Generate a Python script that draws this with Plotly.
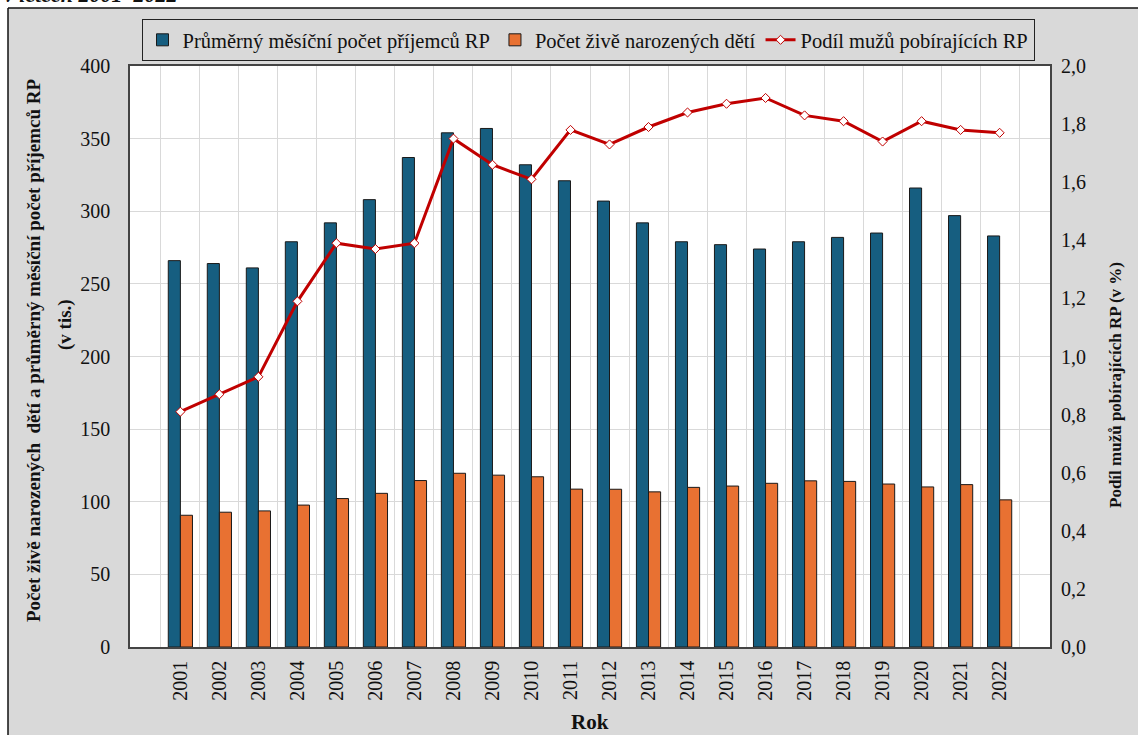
import plotly.graph_objects as go

years = [str(y) for y in range(2001, 2023)]
prijemci = [266, 264, 261, 279, 292, 308, 337, 354, 357, 332, 321, 307,
            292, 279, 277, 274, 279, 282, 285, 316, 297, 283]
narozeni = [90.7, 92.8, 93.7, 97.7, 102.2, 105.8, 114.6, 119.6, 118.3, 117.2, 108.7, 108.6,
            106.8, 109.9, 110.8, 112.7, 114.4, 114.0, 112.2, 110.2, 111.8, 101.3]
podil_muzu = [0.81, 0.87, 0.93, 1.19, 1.39, 1.37, 1.39, 1.75, 1.66, 1.61, 1.78, 1.73,
              1.79, 1.84, 1.87, 1.89, 1.83, 1.81, 1.74, 1.81, 1.78, 1.77]

FONT = "'Liberation Serif', 'Times New Roman', Times, serif"

fig = go.Figure()
fig.add_trace(go.Bar(
    x=years, y=prijemci, name="Průměrný měsíční počet příjemců RP",
    marker=dict(color="#165E80", line=dict(color="#1a1a1a", width=1)),
))
fig.add_trace(go.Bar(
    x=years, y=narozeni, name="Počet živě narozených dětí",
    marker=dict(color="#E87132", line=dict(color="#1a1a1a", width=1)),
))
fig.add_trace(go.Scatter(
    x=years, y=podil_muzu, name="Podíl mužů pobírajících RP", yaxis="y2",
    mode="lines+markers",
    line=dict(color="#C00000", width=3),
    marker=dict(symbol="diamond", size=7, color="white",
                line=dict(color="#C00000", width=1)),
))

L, R, T, B = 130, 88, 66, 88
W, H = 1138, 735
pw, ph = W - L - R, H - T - B


def px_x(px):
    return (px - L) / pw


def px_y(py):
    return (H - B - py) / ph


fig.update_layout(
    width=W, height=H,
    margin=dict(l=L, r=R, t=T, b=B, autoexpand=False),
    paper_bgcolor="#D9D9D9",
    plot_bgcolor="white",
    separators=", ",
    barmode="group",
    bargap=0.38,
    bargroupgap=0,
    font=dict(family=FONT, color="#111111", size=20),
    showlegend=True,
    legend=dict(
        orientation="h",
        x=px_x(588), xanchor="center",
        y=px_y(19), yanchor="top",
        bgcolor="#D9D9D9", bordercolor="#222222", borderwidth=1,
        font=dict(family=FONT, size=20.5, color="#111111"),
        traceorder="normal",
    ),
    xaxis=dict(
        type="category",
        tickson="boundaries",
        showgrid=True, gridcolor="#D9D9D9", gridwidth=1,
        showline=True, linecolor="#444444", linewidth=1.5, mirror=True,
        ticks="", tickangle=-90,
        tickfont=dict(family=FONT, size=20, color="#111111"),
        ticklabelstandoff=4,
    ),
    yaxis=dict(
        range=[0, 400], dtick=50,
        showgrid=True, gridcolor="#D9D9D9", gridwidth=1,
        showline=True, linecolor="#444444", linewidth=1.5, mirror=True,
        zeroline=False, ticks="",
        tickfont=dict(family=FONT, size=20, color="#111111"),
        ticklabelstandoff=14,
    ),
    yaxis2=dict(
        range=[0, 2], dtick=0.2, tickformat=".1f",
        overlaying="y", side="right",
        showgrid=False, zeroline=False, showline=False, ticks="",
        tickfont=dict(family=FONT, size=20, color="#111111"),
        ticklabelstandoff=10,
    ),
    shapes=[
        dict(type="rect", xref="paper", yref="paper", layer="below",
             x0=px_x(-5), x1=px_x(W + 5), y0=px_y(8), y1=px_y(-5),
             fillcolor="white", line=dict(width=0)),
        dict(type="rect", xref="paper", yref="paper", layer="below",
             x0=px_x(-5), x1=px_x(8), y0=px_y(H + 5), y1=px_y(-5),
             fillcolor="white", line=dict(width=0)),
        dict(type="line", xref="paper", yref="paper",
             x0=px_x(8), x1=px_x(8), y0=px_y(H + 5), y1=px_y(8),
             line=dict(color="#111111", width=1.5)),
        dict(type="line", xref="paper", yref="paper",
             x0=px_x(8), x1=px_x(W + 5), y0=px_y(8), y1=px_y(8),
             line=dict(color="#111111", width=1.5)),
    ],
    annotations=[
        dict(text="<b><i>v letech 2001–2022</i></b>", xref="paper", yref="paper",
             x=px_x(2), xanchor="left", y=px_y(9), yanchor="bottom",
             showarrow=False, font=dict(family=FONT, size=22, color="#111111")),
        dict(text="<b>Počet živě narozených  dětí a průměrný měsíční počet příjemců RP</b>",
             xref="paper", yref="paper", x=px_x(33), y=px_y(350),
             xanchor="center", yanchor="middle", textangle=-90, showarrow=False,
             font=dict(family=FONT, size=19, color="#111111")),
        dict(text="<b>(v tis.)</b>",
             xref="paper", yref="paper", x=px_x(65), y=px_y(325),
             xanchor="center", yanchor="middle", textangle=-90, showarrow=False,
             font=dict(family=FONT, size=19, color="#111111")),
        dict(text="<b>Podíl mužů pobírajících RP (v %)</b>",
             xref="paper", yref="paper", x=px_x(1115), y=px_y(385),
             xanchor="center", yanchor="middle", textangle=-90, showarrow=False,
             font=dict(family=FONT, size=17, color="#111111")),
        dict(text="<b>Rok</b>",
             xref="paper", yref="paper", x=px_x(590), y=px_y(722),
             xanchor="center", yanchor="middle", showarrow=False,
             font=dict(family=FONT, size=21, color="#111111")),
    ],
)

fig.write_html(
    "out.html",
    config={"displayModeBar": False},
    post_script="document.body.style.margin='0px';document.body.style.overflow='hidden';",
)
